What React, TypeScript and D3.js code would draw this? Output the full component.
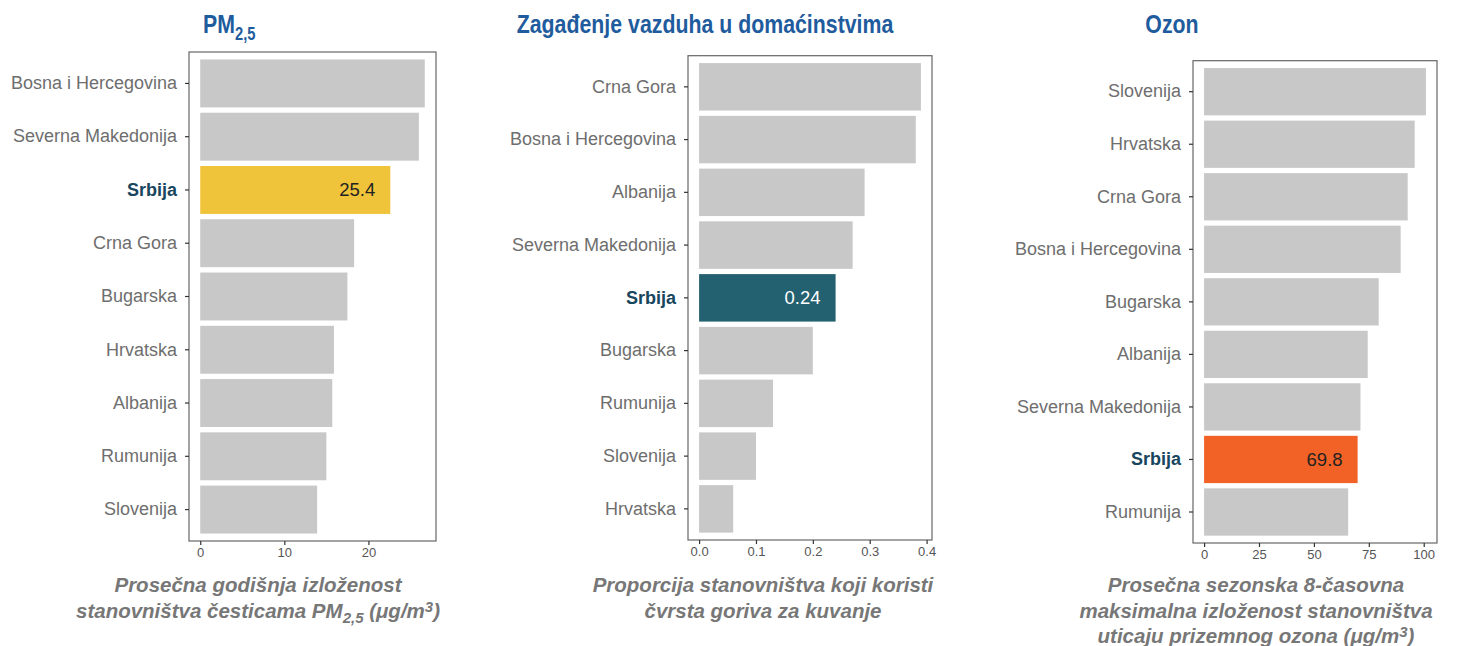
import React, { useRef, useEffect } from 'react';
import * as d3 from 'd3';

// PM2.5 panel
const pmCountries = ['Bosna i Hercegovina', 'Severna Makedonija', 'Srbija', 'Crna Gora', 'Bugarska', 'Hrvatska', 'Albanija', 'Rumunija', 'Slovenija'];
const pmValues = [26.7, 26.0, 22.6, 18.3, 17.5, 15.9, 15.7, 15.0, 13.9];
const pmTicks = [0, 10, 20];

// household air pollution panel
const hhCountries = ['Crna Gora', 'Bosna i Hercegovina', 'Albanija', 'Severna Makedonija', 'Srbija', 'Bugarska', 'Rumunija', 'Slovenija', 'Hrvatska'];
const hhValues = [0.39, 0.381, 0.291, 0.27, 0.24, 0.2, 0.13, 0.1, 0.06];
const hhTicks = [0, 0.1, 0.2, 0.3, 0.4];

// ozone panel
const ozCountries = ['Slovenija', 'Hrvatska', 'Crna Gora', 'Bosna i Hercegovina', 'Bugarska', 'Albanija', 'Severna Makedonija', 'Srbija', 'Rumunija'];
const ozValues = [101, 95.9, 92.7, 89.5, 79.5, 74.5, 71.2, 69.9, 65.6];
const ozTicks = [0, 25, 50, 75, 100];

const highlightLabels = ['25.4', '0.24', '69.8'];

const W = 1457;
const H = 646;

const panels = [
  {
    countries: pmCountries, values: pmValues, ticks: pmTicks, fmt: d3.format('d'),
    frame: { x0: 189, x1: 436, y0: 52, y1: 541 },
    hiColor: '#f0c43a', hiText: '#222', label: highlightLabels[0],
    title: 'PM', titleSub: '2,5', titleX: 203, titleAnchor: 'start',
    subX: 258,
    sub: [[{ t: 'Prosečna godišnja izloženost' }], [{ t: 'stanovništva česticama PM' }, { t: '2,5', s: 'sub' }, { t: ' (μg/m' }, { t: '3', s: 'sup' }, { t: ')' }]],
  },
  {
    countries: hhCountries, values: hhValues, ticks: hhTicks, fmt: d3.format('.1f'),
    frame: { x0: 688, x1: 932, y0: 55.7, y1: 540 },
    hiColor: '#236070', hiText: '#ffffff', label: highlightLabels[1],
    title: 'Zagađenje vazduha u domaćinstvima', titleSub: '', titleX: 705, titleAnchor: 'middle',
    subX: 763,
    sub: [[{ t: 'Proporcija stanovništva koji koristi' }], [{ t: 'čvrsta goriva za kuvanje' }]],
  },
  {
    countries: ozCountries, values: ozValues, ticks: ozTicks, fmt: d3.format('d'),
    frame: { x0: 1193, x1: 1437, y0: 60.7, y1: 543 },
    hiColor: '#f26226', hiText: '#222', label: highlightLabels[2],
    title: 'Ozon', titleSub: '', titleX: 1172, titleAnchor: 'middle',
    subX: 1256,
    sub: [[{ t: 'Prosečna sezonska 8-časovna' }], [{ t: 'maksimalna izloženost stanovništva' }], [{ t: 'uticaju prizemnog ozona (μg/m' }, { t: '3', s: 'sup' }, { t: ')' }]],
  },
];

const App = () => {
  const svgRef = useRef(null);

  useEffect(() => {
    const svg = d3.select(svgRef.current);
    svg.selectAll('*').remove();
    const font = '"Liberation Sans", Arial, sans-serif';

    panels.forEach((p) => {
      const f = p.frame;
      const maxV = d3.max(p.values);
      const x = d3.scaleLinear().domain([-0.05 * maxV, 1.05 * maxV]).range([f.x0, f.x1]);
      const y = d3.scaleBand().domain(p.countries).range([f.y0, f.y1]).paddingInner(0.1).paddingOuter(0.14);
      const g = svg.append('g');

      // bars
      g.selectAll('.bar')
        .data(p.countries)
        .enter()
        .append('rect')
        .attr('x', x(0))
        .attr('y', (d) => y(d))
        .attr('width', (d, i) => x(p.values[i]) - x(0))
        .attr('height', y.bandwidth())
        .attr('fill', (d) => (d === 'Srbija' ? p.hiColor : '#c8c8c8'));

      // value label on highlighted bar
      const si = p.countries.indexOf('Srbija');
      g.append('text')
        .attr('x', x(p.values[si]) - 15)
        .attr('y', y('Srbija') + y.bandwidth() / 2)
        .attr('dy', '0.35em')
        .attr('text-anchor', 'end')
        .style('font-family', font)
        .style('font-size', '18.5px')
        .attr('fill', p.hiText)
        .text(p.label);

      // frame
      g.append('rect')
        .attr('x', f.x0)
        .attr('y', f.y0)
        .attr('width', f.x1 - f.x0)
        .attr('height', f.y1 - f.y0)
        .attr('fill', 'none')
        .attr('stroke', '#666')
        .attr('stroke-width', 1.2);

      // y axis
      const ya = g.append('g').attr('transform', `translate(${f.x0},0)`)
        .call(d3.axisLeft(y).tickSize(4).tickPadding(8));
      ya.select('.domain').remove();
      ya.selectAll('line').attr('stroke', '#333').attr('stroke-width', 1.2);
      ya.selectAll('text')
        .style('font-family', font)
        .style('font-size', '18px')
        .style('font-weight', (d) => (d === 'Srbija' ? 'bold' : 'normal'))
        .attr('fill', (d) => (d === 'Srbija' ? '#17465e' : '#6e6e6e'));

      // x axis
      const xa = g.append('g').attr('transform', `translate(0,${f.y1})`)
        .call(d3.axisBottom(x).tickValues(p.ticks).tickFormat(p.fmt).tickSize(4).tickPadding(3));
      xa.select('.domain').remove();
      xa.selectAll('line').attr('stroke', '#333').attr('stroke-width', 1.2);
      xa.selectAll('text')
        .style('font-family', font)
        .style('font-size', '13px')
        .attr('fill', '#555');

      // title, condensed bold
      const tt = g.append('text')
        .attr('transform', `translate(${p.titleX},33) scale(0.82,1)`)
        .attr('text-anchor', p.titleAnchor)
        .style('font-family', font)
        .style('font-weight', 'bold')
        .style('font-size', '26px')
        .attr('fill', '#1f5c9e');
      tt.append('tspan').text(p.title);
      if (p.titleSub) {
        tt.append('tspan').attr('dy', 7).style('font-size', '18px').text(p.titleSub);
      }

      // subtitle lines
      p.sub.forEach((line, li) => {
        const t = g.append('text')
          .attr('x', p.subX)
          .attr('y', 592 + li * 25.5)
          .attr('text-anchor', 'middle')
          .style('font-family', font)
          .style('font-weight', 'bold')
          .style('font-style', 'italic')
          .style('font-size', '20.5px')
          .attr('fill', '#777');
        let shift = 0;
        line.forEach((part) => {
          const ts = t.append('tspan').text(part.t);
          const target = part.s === 'sub' ? 5 : part.s === 'sup' ? -6 : 0;
          if (target !== shift) ts.attr('dy', target - shift);
          if (part.s) ts.style('font-size', '15px');
          shift = target;
        });
      });
    });

    return () => {
      d3.select(svgRef.current).selectAll('*').remove();
    };
  }, []);

  return (
    <div>
      <svg ref={svgRef} width={W} height={H} style={{ position: 'absolute', left: 0, top: 0, background: '#fff' }}></svg>
    </div>
  );
};

export default App;
